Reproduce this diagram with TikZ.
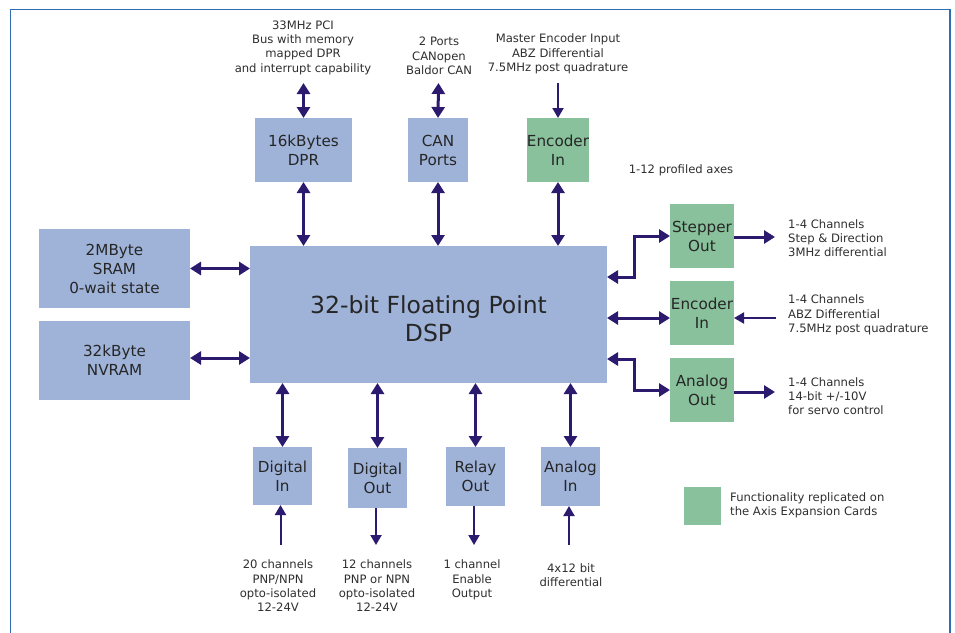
\documentclass[tikz,border=0pt]{standalone}
\usepackage{fontspec}
\setmainfont{DejaVu Sans}
\usetikzlibrary{arrows.meta}
\definecolor{boxblue}{HTML}{9FB3D9}
\definecolor{boxgreen}{HTML}{88C19B}
\definecolor{arrowc}{HTML}{2B1A6E}
\definecolor{txt}{HTML}{2E2E2E}
\definecolor{frame}{HTML}{2F6DB5}
\tikzset{
  blk/.style={inner sep=0pt, outer sep=0pt, align=center, text=black!85,
    font=\fontsize{15.2}{19}\selectfont},
  bluebox/.style={blk, fill=boxblue},
  greenbox/.style={blk, fill=boxgreen},
  lbl/.style={align=center, text=txt, font=\fontsize{11.6}{14.3}\selectfont, inner sep=0pt},
  dbl/.style={draw=arrowc, line width=3pt, {Triangle[width=13pt,length=11pt]}-{Triangle[width=13pt,length=11pt]}},
  one/.style={draw=arrowc, line width=2pt, -{Triangle[width=11pt,length=10pt]}},
  onethick/.style={draw=arrowc, line width=3pt, -{Triangle[width=13pt,length=11pt]}}
}
\begin{document}
\begin{tikzpicture}[x=1pt,y=-1pt]
\useasboundingbox (0,0) rectangle (955,632);
\draw[frame, line width=1.2pt] (10.5,640) -- (10.5,9.5) -- (950,9.5) -- (950,640);

% boxes
\node[bluebox, minimum width=97pt, minimum height=64pt] (dpr) at (303.5,150) {16kBytes\\DPR};
\node[bluebox, minimum width=60pt, minimum height=64pt] (can) at (438,150) {CAN\\Ports};
\node[greenbox, minimum width=60pt, minimum height=64pt] (encT) at (558,150) {Encoder\\In};
\node[bluebox, minimum width=357pt, minimum height=137pt] (dsp) at (428.5,314.5) {};
\node[blk, font=\fontsize{23.5}{28}\selectfont] (dsptext) at ([yshift=-4.5pt]dsp.center) {32-bit Floating Point\\DSP};
\node[bluebox, minimum width=151pt, minimum height=79pt] (sram) at (114.5,268.5) {2MByte\\SRAM\\0-wait state};
\node[bluebox, minimum width=151pt, minimum height=79pt] (nvram) at (114.5,360.5) {32kByte\\NVRAM};
\node[greenbox, minimum width=64pt, minimum height=64pt] (step) at (702,236) {Stepper\\Out};
\node[greenbox, minimum width=64pt, minimum height=64pt] (encR) at (702,313) {Encoder\\In};
\node[greenbox, minimum width=64pt, minimum height=64pt] (aout) at (702,390) {Analog\\Out};
\node[bluebox, minimum width=59pt, minimum height=58pt] (din) at (282.5,476) {Digital\\In};
\node[bluebox, minimum width=59pt, minimum height=60pt] (dout) at (377.5,478) {Digital\\Out};
\node[bluebox, minimum width=59pt, minimum height=59pt] (relay) at (475.5,476.5) {Relay\\Out};
\node[bluebox, minimum width=59pt, minimum height=59pt] (ain) at (570.5,476.5) {Analog\\In};
\node[greenbox, minimum width=37pt, minimum height=38pt] (legend) at (702.5,506) {};

% labels
\node[lbl] (ldpr) at (303,47.5) {33MHz PCI\\Bus with memory\\mapped DPR\\and interrupt capability};
\node[lbl] (lcan) at (439,56) {2 Ports\\CANopen\\Baldor CAN};
\node[lbl] (lenc) at (558,54) {Master Encoder Input\\ABZ Differential\\7.5MHz post quadrature};
\node[lbl] (laxes) at (681,170) {1-12 profiled axes};
\node[lbl, anchor=west, align=left] (lstep) at (788,238) {1-4 Channels\\Step \& Direction\\3MHz differential};
\node[lbl, anchor=west, align=left] (lencR) at (788,315) {1-4 Channels\\ABZ Differential\\7.5MHz post quadrature};
\node[lbl, anchor=west, align=left] (laout) at (788,396) {1-4 Channels\\14-bit +/-10V\\for servo control};
\node[lbl] (ldin) at (278,586) {20 channels\\PNP/NPN\\opto-isolated\\12-24V};
\node[lbl] (ldout) at (377,586) {12 channels\\PNP or NPN\\opto-isolated\\12-24V};
\node[lbl] (lrelay) at (472,580) {1 channel\\Enable\\Output};
\node[lbl] (lain) at (571,575) {4x12 bit\\differential};
\node[lbl, anchor=west, align=left] (lleg) at (730,505) {Functionality replicated on\\the Axis Expansion Cards};

% free ends
\coordinate (dprTop) at (303.5,83);
\coordinate (canTop) at (438.5,83);
\coordinate (encTop) at (558,83);
\coordinate (stepEnd) at (775,237);
\coordinate (encREnd) at (776,318);
\coordinate (aoutEnd) at (775,392);
\coordinate (dinEnd) at (280.5,545);
\coordinate (doutEnd) at (376,545);
\coordinate (relayEnd) at (474,545);
\coordinate (ainEnd) at (569,545);

% connectors
\draw[dbl] (dprTop) -- (dpr.north);
\draw[dbl] (canTop) -- (can.north);
\draw[one] (encTop) -- (encT.north);
\draw[dbl] (dpr.south) -- (dsp.north -| dpr.south);
\draw[dbl] (can.south) -- (dsp.north -| can.south);
\draw[dbl] (encT.south) -- (dsp.north -| encT.south);
\draw[dbl] (sram.east) -- (dsp.west |- sram.east);
\draw[dbl] (nvram.east |- 0,358) -- (dsp.west |- 0,358);
\draw[dbl] (dsp.east |- 0,277) -- ++(27,0) |- (step.west);
\draw[dbl] (dsp.east |- 0,318) -- (encR.west |- 0,318);
\draw[dbl] (dsp.east |- 0,359) -- ++(27,0) |- (aout.west);
\draw[onethick] (step.east |- stepEnd) -- (stepEnd);
\draw[one] (encREnd) -- (encR.east |- encREnd);
\draw[onethick] (aout.east |- aoutEnd) -- (aoutEnd);
\draw[dbl] (dsp.south -| din.north) -- (din.north);
\draw[dbl] (dsp.south -| dout.north) -- (dout.north);
\draw[dbl] (dsp.south -| relay.north) -- (relay.north);
\draw[dbl] (dsp.south -| ain.north) -- (ain.north);
\draw[one] (dinEnd) -- (din.south -| dinEnd);
\draw[one] (dout.south -| doutEnd) -- (doutEnd);
\draw[one] (relay.south -| relayEnd) -- (relayEnd);
\draw[one] (ainEnd) -- (ain.south -| ainEnd);
\end{tikzpicture}
\end{document}
